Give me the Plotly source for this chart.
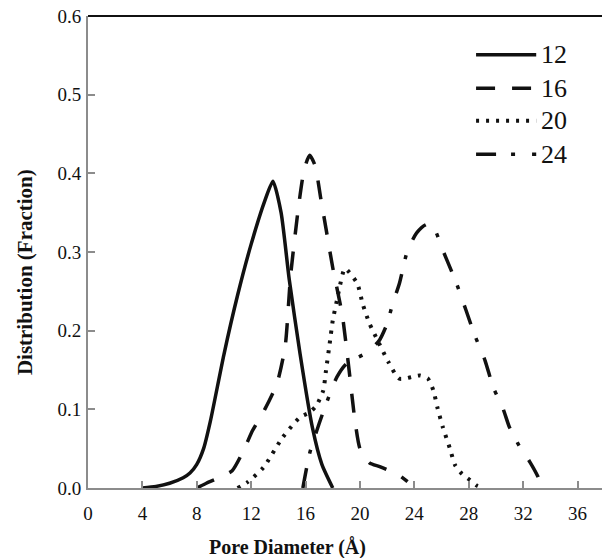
import plotly.graph_objects as go

# ---- data ----
x12 = [4, 5, 6, 7, 7.5, 8, 8.5, 9, 10, 11, 12, 13, 13.6, 14.2, 14.8, 15.6, 16.5, 17.2, 18]
y12 = [0, 0.002, 0.006, 0.013, 0.019, 0.03, 0.05, 0.085, 0.17, 0.245, 0.31, 0.365, 0.39, 0.35, 0.265, 0.17, 0.077, 0.03, 0]

x16 = [8, 8.7, 9.5, 10.6, 11.5, 12.1, 13, 13.9, 14.5, 14.9, 15.5, 15.9, 16.3, 16.7, 17.1, 17.5, 18.0, 18.7, 19.2, 19.6, 20, 20.7, 21.5, 22.9, 23.5]
y16 = [0, 0.006, 0.012, 0.022, 0.05, 0.073, 0.10, 0.133, 0.18, 0.27, 0.36, 0.405, 0.423, 0.41, 0.37, 0.33, 0.28, 0.22, 0.15, 0.09, 0.05, 0.032, 0.027, 0.016, 0.008]

x20 = [11, 11.7, 12.9, 14.3, 15.6, 16.3, 16.8, 17.3, 17.5, 17.8, 18.0, 18.3, 18.5, 18.9, 19.8, 20.2, 20.7, 21.4, 22.1, 22.9, 24.4, 25.0, 25.4, 25.7, 26.1, 26.6, 27.0, 27.5, 28.1, 28.6, 29.0]
y20 = [0, 0.007, 0.026, 0.064, 0.09, 0.096, 0.105, 0.124, 0.149, 0.187, 0.213, 0.238, 0.255, 0.279, 0.26, 0.234, 0.209, 0.184, 0.16, 0.139, 0.143, 0.139, 0.124, 0.102, 0.077, 0.051, 0.029, 0.018, 0.01, 0.003, 0]

x24 = [15.8, 16.3, 17.0, 17.6, 18.3, 19.0, 20.5, 21.4, 22.0, 22.4, 22.9, 23.5, 24.2, 24.9, 25.5, 26.1, 26.8, 27.1, 27.8, 28.4, 29.2, 29.8, 30.5, 31.0, 31.7, 32.5, 33.1, 33.4]
y24 = [0, 0.044, 0.082, 0.111, 0.141, 0.158, 0.172, 0.187, 0.209, 0.234, 0.26, 0.302, 0.325, 0.335, 0.328, 0.302, 0.273, 0.26, 0.226, 0.196, 0.162, 0.128, 0.102, 0.077, 0.054, 0.033, 0.014, 0]

series_names = ["12", "16", "20", "24"]
x_ticks = [0, 4, 8, 12, 16, 20, 24, 28, 32, 36]
y_ticks = [0.0, 0.1, 0.2, 0.3, 0.4, 0.5, 0.6]
y_tick_text = ["0.0", "0.1", "0.2", "0.3", "0.4", "0.5", "0.6"]

# ---- styles ----
INK = "#111111"
AXIS = "#8c8c8c"
FONT = "Liberation Serif"
dashes = ["solid", "19px,17px", "3px,7px", "20px,15px,4px,17px"]
widths = [3.5, 3.5, 4, 3.5]

fig = go.Figure()
for name, xs, ys, d, w in zip(series_names, [x12, x16, x20, x24], [y12, y16, y20, y24], dashes, widths):
    fig.add_trace(go.Scatter(
        x=xs, y=ys, mode="lines", name=name, showlegend=False,
        line=dict(color=INK, width=w, dash=d, shape="spline", smoothing=0.6),
    ))

# manual legend (long line samples as in the reference)
leg_y = [0.918, 0.847, 0.778, 0.707]
shapes = []
annotations = []
for name, d, w, ly in zip(series_names, dashes, widths, leg_y):
    shapes.append(dict(type="line", xref="paper", yref="paper",
                       x0=0.755, x1=0.872, y0=ly, y1=ly,
                       line=dict(color=INK, width=w, dash=d)))
    annotations.append(dict(text=name, xref="paper", yref="paper",
                            x=0.877, y=ly, xanchor="left", yanchor="middle",
                            showarrow=False, font=dict(family=FONT, size=26, color=INK)))

# top border line
shapes.append(dict(type="line", xref="paper", yref="paper", x0=0, x1=1, y0=1, y1=1,
                   line=dict(color=INK, width=1.8)))

annotations.append(dict(text="<b>Pore Diameter (Å)</b>", xref="paper", yref="paper",
                        x=0.389, y=-0.125, xanchor="center", yanchor="middle",
                        showarrow=False, font=dict(family=FONT, size=20, color=INK)))
annotations.append(dict(text="<b>Distribution (Fraction)</b>", xref="paper", yref="paper",
                        x=-0.122, y=0.458, xanchor="center", yanchor="middle", textangle=-90,
                        showarrow=False, font=dict(family=FONT, size=21, color=INK)))

fig.update_layout(
    width=602, height=558,
    margin=dict(l=88, r=0, t=16, b=70),
    paper_bgcolor="white", plot_bgcolor="white",
    font=dict(family=FONT, size=19, color=INK),
    shapes=shapes, annotations=annotations,
    showlegend=False,
)
fig.update_xaxes(range=[0, 37.8], tickvals=x_ticks, ticktext=[str(v) for v in x_ticks],
                 ticks="inside", ticklen=7, tickwidth=1.5, tickcolor=AXIS,
                 showline=True, linecolor=AXIS, linewidth=2, showgrid=False, zeroline=False,
                 ticklabelstandoff=7,
                 tickfont=dict(family=FONT, size=19, color=INK))
fig.update_yaxes(range=[0, 0.6], tickvals=y_ticks, ticktext=y_tick_text,
                 ticks="inside", ticklen=7, tickwidth=1.5, tickcolor=AXIS,
                 showline=True, linecolor=AXIS, linewidth=2, showgrid=False, zeroline=False,
                 ticklabelstandoff=1,
                 tickfont=dict(family=FONT, size=19, color=INK))

fig.write_html("out.html")
